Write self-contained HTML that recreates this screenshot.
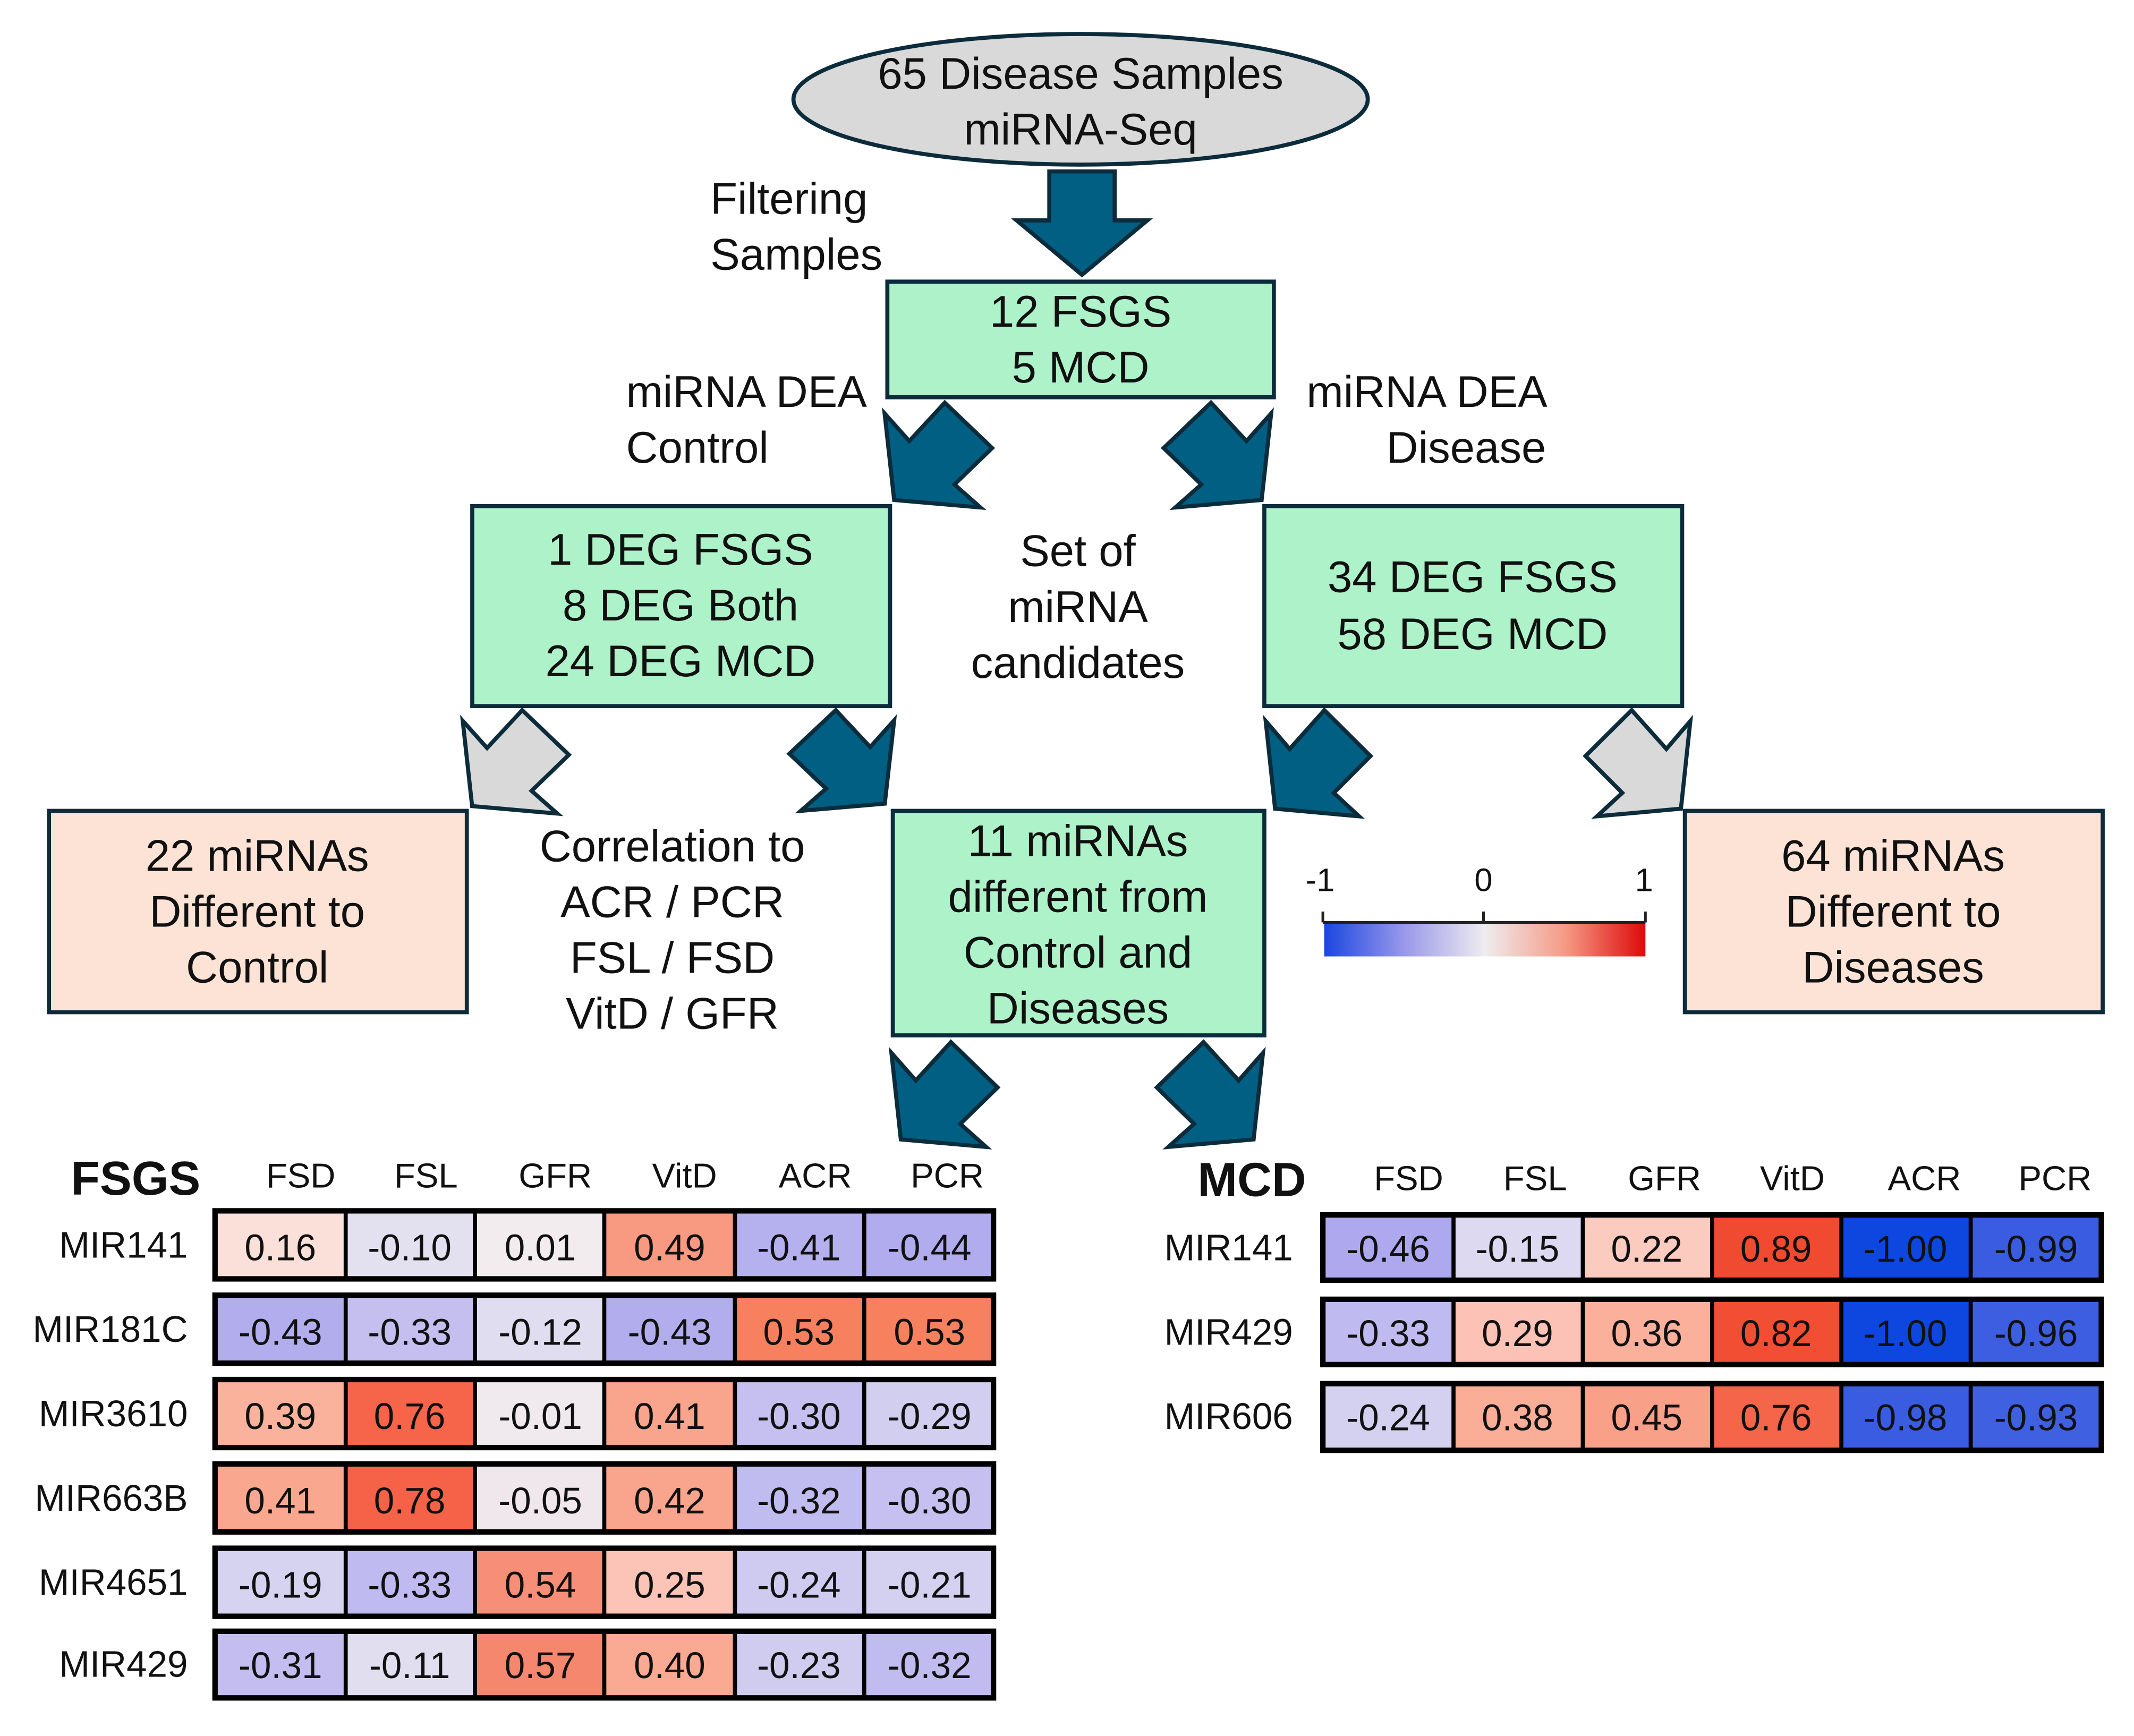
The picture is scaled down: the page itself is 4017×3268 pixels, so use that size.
<!DOCTYPE html>
<html><head><meta charset="utf-8"><style>
html,body{margin:0;padding:0;background:#fff;}
svg{display:block;}
text{font-family:"Liberation Sans",sans-serif;fill:#111;}
.b{font-size:32.5px;}
.t{font-size:27px;}
.h{font-size:25.5px;}
</style></head><body>
<svg width="4017" height="3268" viewBox="0 0 1568 1276" preserveAspectRatio="none" xmlns="http://www.w3.org/2000/svg">
<g stroke="#0c2c3c" stroke-width="3" stroke-linejoin="miter">
<ellipse cx="794" cy="73" rx="211" ry="48" fill="#d9d9d9"/>
<polygon points="771,126 819,126 819,162 843,162 795,202 747,162 771,162" fill="#005f83"/>
<rect x="652" y="207" width="284" height="85" fill="#aef2c9"/>
<rect x="347" y="372" width="307" height="147" fill="#aef2c9"/>
<rect x="929" y="372" width="307" height="147" fill="#aef2c9"/>
<rect x="656" y="596" width="273" height="165" fill="#aef2c9"/>
<rect x="36" y="596" width="307" height="148" fill="#fde3d6"/>
<rect x="1238" y="596" width="307" height="148" fill="#fde3d6"/>
<polygon points="650,303.9 668.1,324.2 694.2,296 729,329.3 701.3,356.1 720.4,373 657,367.5" fill="#005f83"/>
<polygon points="934,303.9 915.9,324.2 889.8,296 855,329.3 882.7,356.1 863.6,373 927,367.5" fill="#005f83"/>
<polygon points="340,529.8 357.9,549.8 383.7,522 418,554.8 390.6,581.3 409.5,598 346.9,592.5" fill="#d9d9d9"/>
<polygon points="657,529.5 639.4,549.1 614.1,522 580,554 607,579.7 588.4,596 650.1,590.7" fill="#005f83"/>
<polygon points="930,530 947.6,550.5 973.1,522 1007,555.7 980,582.8 998.6,600 936.9,594.4" fill="#005f83"/>
<polygon points="1242,530 1224.4,550.5 1198.9,522 1165,555.7 1192,582.8 1173.4,600 1235.1,594.4" fill="#d9d9d9"/>
<polygon points="655,773.9 672.9,794.2 698.7,766 733,799.3 705.6,826.1 724.5,843 661.9,837.5" fill="#005f83"/>
<polygon points="928,773.9 910.1,794.2 884.3,766 850,799.3 877.4,826.1 858.5,843 921.1,837.5" fill="#005f83"/>
</g>
<g class="b" text-anchor="middle" dominant-baseline="central">
<text x="794" y="54">65 Disease Samples</text>
<text x="794" y="95">miRNA-Seq</text>
<text x="794" y="229">12 FSGS</text>
<text x="794" y="270">5 MCD</text>
<text x="500" y="404">1 DEG FSGS</text>
<text x="500" y="445">8 DEG Both</text>
<text x="500" y="486">24 DEG MCD</text>
<text x="792" y="405">Set of</text>
<text x="792" y="446">miRNA</text>
<text x="792" y="487">candidates</text>
<text x="1082" y="424">34 DEG FSGS</text>
<text x="1082" y="466">58 DEG MCD</text>
<text x="189" y="629">22 miRNAs</text>
<text x="189" y="670">Different to</text>
<text x="189" y="711">Control</text>
<text x="494" y="622">Correlation to</text>
<text x="494" y="663">ACR / PCR</text>
<text x="494" y="704">FSL / FSD</text>
<text x="494" y="745">VitD / GFR</text>
<text x="792" y="618">11 miRNAs</text>
<text x="792" y="659">different from</text>
<text x="792" y="700">Control and</text>
<text x="792" y="741">Diseases</text>
<text x="1391" y="629">64 miRNAs</text>
<text x="1391" y="670">Different to</text>
<text x="1391" y="711">Diseases</text>
</g>
<g class="b" dominant-baseline="central">
<text x="522" y="146">Filtering</text>
<text x="522" y="187">Samples</text>
<text x="460" y="288">miRNA DEA</text>
<text x="460" y="329">Control</text>
<text x="960" y="288">miRNA DEA</text>
<text x="1136" y="329" text-anchor="end">Disease</text>
</g>
<defs><linearGradient id="cb" x1="0" x2="1" y1="0" y2="0">
<stop offset="0" stop-color="#1a46e0"/><stop offset="0.25" stop-color="#9a98ea"/><stop offset="0.5" stop-color="#eeecef"/><stop offset="0.75" stop-color="#f59a85"/><stop offset="1" stop-color="#dd0a0a"/>
</linearGradient></defs>
<rect x="973" y="678" width="236" height="25" fill="url(#cb)"/>
<g stroke="#222" stroke-width="2"><line x1="972" y1="678" x2="1209" y2="678"/><line x1="972" y1="670" x2="972" y2="678"/><line x1="1090" y1="670" x2="1090" y2="678"/><line x1="1209" y1="670" x2="1209" y2="678"/></g>
<g text-anchor="middle" dominant-baseline="central" style="font-size:24px">
<text x="970" y="647">-1</text><text x="1090" y="647">0</text><text x="1208" y="647">1</text>
</g>
<text x="52" y="866" dominant-baseline="central" style="font-size:35px;font-weight:bold">FSGS</text>
<text x="880" y="867" dominant-baseline="central" style="font-size:35px;font-weight:bold">MCD</text>
<g class="h" text-anchor="middle" dominant-baseline="central">
<text x="221" y="864">FSD</text><text x="313" y="864">FSL</text><text x="408" y="864">GFR</text><text x="503" y="864">VitD</text><text x="599" y="864">ACR</text><text x="696" y="864">PCR</text>
<text x="1035" y="866">FSD</text><text x="1128" y="866">FSL</text><text x="1223" y="866">GFR</text><text x="1317" y="866">VitD</text><text x="1414" y="866">ACR</text><text x="1510" y="866">PCR</text>
</g>
<g class="t" text-anchor="end" dominant-baseline="central">
<text x="138" y="915">MIR141</text><text x="138" y="977">MIR181C</text><text x="138" y="1039">MIR3610</text><text x="138" y="1101">MIR663B</text><text x="138" y="1163">MIR4651</text><text x="138" y="1223">MIR429</text>
<text x="950" y="917">MIR141</text><text x="950" y="979">MIR429</text><text x="950" y="1041">MIR606</text>
</g>
<g>
<rect x="158" y="890" width="96" height="50" fill="#fbe0da"/><rect x="254" y="890" width="95" height="50" fill="#e3e0f0"/><rect x="349" y="890" width="95" height="50" fill="#f2ecee"/><rect x="444" y="890" width="96" height="50" fill="#f89a82"/><rect x="540" y="890" width="95" height="50" fill="#b5b0ee"/><rect x="635" y="890" width="95" height="50" fill="#b1acee"/>
<rect x="158" y="952" width="96" height="50" fill="#b2aeee"/><rect x="254" y="952" width="95" height="50" fill="#c4bfef"/><rect x="349" y="952" width="95" height="50" fill="#e0ddf0"/><rect x="444" y="952" width="96" height="50" fill="#b2aeee"/><rect x="540" y="952" width="95" height="50" fill="#f7805f"/><rect x="635" y="952" width="95" height="50" fill="#f7805f"/>
<rect x="158" y="1014" width="96" height="50" fill="#fab29d"/><rect x="254" y="1014" width="95" height="50" fill="#f6644a"/><rect x="349" y="1014" width="95" height="50" fill="#f0eaef"/><rect x="444" y="1014" width="96" height="50" fill="#f9a58e"/><rect x="540" y="1014" width="95" height="50" fill="#c5c0ef"/><rect x="635" y="1014" width="95" height="50" fill="#d2cef0"/>
<rect x="158" y="1076" width="96" height="50" fill="#f9a78f"/><rect x="254" y="1076" width="95" height="50" fill="#f56248"/><rect x="349" y="1076" width="95" height="50" fill="#f0e7ec"/><rect x="444" y="1076" width="96" height="50" fill="#f9a58e"/><rect x="540" y="1076" width="95" height="50" fill="#c1bcef"/><rect x="635" y="1076" width="95" height="50" fill="#c5c0ef"/>
<rect x="158" y="1138" width="96" height="50" fill="#d6d3f0"/><rect x="254" y="1138" width="95" height="50" fill="#bfbaef"/><rect x="349" y="1138" width="95" height="50" fill="#f78e78"/><rect x="444" y="1138" width="96" height="50" fill="#fbc4b6"/><rect x="540" y="1138" width="95" height="50" fill="#cecaf0"/><rect x="635" y="1138" width="95" height="50" fill="#d3d0f0"/>
<rect x="158" y="1199" width="96" height="49" fill="#c3beef"/><rect x="254" y="1199" width="95" height="49" fill="#e1def0"/><rect x="349" y="1199" width="95" height="49" fill="#f6876f"/><rect x="444" y="1199" width="96" height="49" fill="#faa992"/><rect x="540" y="1199" width="95" height="49" fill="#d0ccf0"/><rect x="635" y="1199" width="95" height="49" fill="#c1bcef"/>
</g>
<g>
<rect x="972" y="893" width="96" height="48" fill="#aea9ee"/><rect x="1068" y="893" width="95" height="48" fill="#dcd9f0"/><rect x="1163" y="893" width="95" height="48" fill="#fbcbc0"/><rect x="1258" y="893" width="95" height="48" fill="#f04a30"/><rect x="1353" y="893" width="95" height="48" fill="#0d47e0"/><rect x="1448" y="893" width="96" height="48" fill="#3a5ce0"/>
<rect x="972" y="955" width="96" height="48" fill="#bfbaef"/><rect x="1068" y="955" width="95" height="48" fill="#fbc2b5"/><rect x="1163" y="955" width="95" height="48" fill="#fab09b"/><rect x="1258" y="955" width="95" height="48" fill="#f24e33"/><rect x="1353" y="955" width="95" height="48" fill="#0d47e0"/><rect x="1448" y="955" width="96" height="48" fill="#3d5ee0"/>
<rect x="972" y="1017" width="96" height="49" fill="#d3d0f0"/><rect x="1068" y="1017" width="95" height="49" fill="#faad97"/><rect x="1163" y="1017" width="95" height="49" fill="#f9a089"/><rect x="1258" y="1017" width="95" height="49" fill="#f4654a"/><rect x="1353" y="1017" width="95" height="49" fill="#3a5ce0"/><rect x="1448" y="1017" width="96" height="49" fill="#3f60e0"/>
</g>
<g fill="none" stroke="#000" stroke-width="3">
<path d="M254 890V940M349 890V940M444 890V940M540 890V940M635 890V940 M254 952V1002M349 952V1002M444 952V1002M540 952V1002M635 952V1002 M254 1014V1064M349 1014V1064M444 1014V1064M540 1014V1064M635 1014V1064 M254 1076V1126M349 1076V1126M444 1076V1126M540 1076V1126M635 1076V1126 M254 1138V1188M349 1138V1188M444 1138V1188M540 1138V1188M635 1138V1188 M254 1199V1248M349 1199V1248M444 1199V1248M540 1199V1248M635 1199V1248"/>
<path d="M1068 893V941M1163 893V941M1258 893V941M1353 893V941M1448 893V941 M1068 955V1003M1163 955V1003M1258 955V1003M1353 955V1003M1448 955V1003 M1068 1017V1066M1163 1017V1066M1258 1017V1066M1353 1017V1066M1448 1017V1066"/>
</g>
<g fill="none" stroke="#000" stroke-width="4">
<rect x="158" y="890" width="572" height="50"/><rect x="158" y="952" width="572" height="50"/><rect x="158" y="1014" width="572" height="50"/><rect x="158" y="1076" width="572" height="50"/><rect x="158" y="1138" width="572" height="50"/><rect x="158" y="1199" width="572" height="49"/>
<rect x="972" y="893" width="572" height="48"/><rect x="972" y="955" width="572" height="48"/><rect x="972" y="1017" width="572" height="49"/>
</g>
<g class="t" text-anchor="middle" dominant-baseline="central">
<text x="206" y="917">0.16</text><text x="301" y="917">-0.10</text><text x="397" y="917">0.01</text><text x="492" y="917">0.49</text><text x="587" y="917">-0.41</text><text x="683" y="917">-0.44</text>
<text x="206" y="979">-0.43</text><text x="301" y="979">-0.33</text><text x="397" y="979">-0.12</text><text x="492" y="979">-0.43</text><text x="587" y="979">0.53</text><text x="683" y="979">0.53</text>
<text x="206" y="1041">0.39</text><text x="301" y="1041">0.76</text><text x="397" y="1041">-0.01</text><text x="492" y="1041">0.41</text><text x="587" y="1041">-0.30</text><text x="683" y="1041">-0.29</text>
<text x="206" y="1103">0.41</text><text x="301" y="1103">0.78</text><text x="397" y="1103">-0.05</text><text x="492" y="1103">0.42</text><text x="587" y="1103">-0.32</text><text x="683" y="1103">-0.30</text>
<text x="206" y="1165">-0.19</text><text x="301" y="1165">-0.33</text><text x="397" y="1165">0.54</text><text x="492" y="1165">0.25</text><text x="587" y="1165">-0.24</text><text x="683" y="1165">-0.21</text>
<text x="206" y="1224">-0.31</text><text x="301" y="1224">-0.11</text><text x="397" y="1224">0.57</text><text x="492" y="1224">0.40</text><text x="587" y="1224">-0.23</text><text x="683" y="1224">-0.32</text>
<text x="1020" y="918">-0.46</text><text x="1115" y="918">-0.15</text><text x="1210" y="918">0.22</text><text x="1305" y="918">0.89</text><text x="1400" y="918">-1.00</text><text x="1496" y="918">-0.99</text>
<text x="1020" y="980">-0.33</text><text x="1115" y="980">0.29</text><text x="1210" y="980">0.36</text><text x="1305" y="980">0.82</text><text x="1400" y="980">-1.00</text><text x="1496" y="980">-0.96</text>
<text x="1020" y="1042">-0.24</text><text x="1115" y="1042">0.38</text><text x="1210" y="1042">0.45</text><text x="1305" y="1042">0.76</text><text x="1400" y="1042">-0.98</text><text x="1496" y="1042">-0.93</text>
</g>
</svg>
</body></html>
